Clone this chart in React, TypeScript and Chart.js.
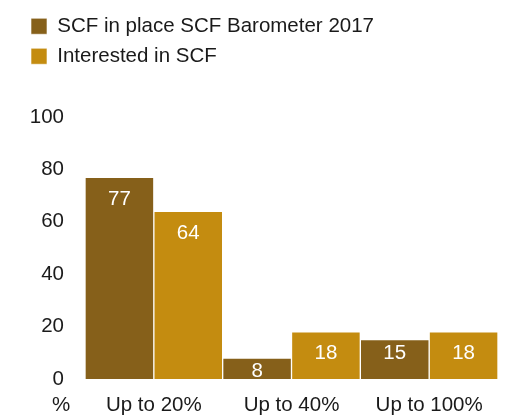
import React, { useEffect, useRef } from "react";
import { Chart, registerables } from "chart.js";

Chart.register(...registerables);

const categories = ["Up to 20%", "Up to 40%", "Up to 100%"];
const seriesNames = ["SCF in place SCF Barometer 2017", "Interested in SCF"];
const scfInPlace = [77, 8, 15];
const interested = [64, 18, 18];
const yTickValues = [0, 20, 40, 60, 80, 100];
const unitLabel = "%";

const DARK = "#86601a";
const GOLD = "#c48c10";
const TEXT = "#1a1a1a";
const FONT = "'Liberation Sans', Arial, Helvetica, sans-serif";
const FS = 20.5;

export default function App() {
  const ref = useRef<HTMLCanvasElement | null>(null);

  useEffect(() => {
    if (!ref.current) return;

    const legendHeightPlugin = {
      id: "legendHeight",
      afterInit(chart: any) {
        const lg = chart.legend;
        if (lg && !lg.__patched) {
          const orig = lg.fit.bind(lg);
          lg.fit = () => {
            orig();
            lg.height = 110.5;
          };
          lg.__patched = true;
        }
      },
    };

    const labelPlugin = {
      id: "valueLabels",
      afterDatasetsDraw(chart: any) {
        const ctx = chart.ctx;
        ctx.save();
        ctx.font = `${FS}px ${FONT}`;
        ctx.fillStyle = "#ffffff";
        ctx.textAlign = "center";
        ctx.textBaseline = "middle";
        chart.data.datasets.forEach((ds: any, di: number) => {
          const meta = chart.getDatasetMeta(di);
          meta.data.forEach((bar: any, i: number) => {
            const top = bar.y;
            const bottom = bar.base;
            const y = Math.min(top + 22, Math.max(top + 13, bottom - 26));
            ctx.fillText(String(ds.data[i]), bar.x, y);
          });
        });
        ctx.restore();
      },
      afterDraw(chart: any) {
        const ctx = chart.ctx;
        const area = chart.chartArea;
        ctx.save();
        ctx.font = `${FS}px ${FONT}`;
        ctx.fillStyle = TEXT;
        ctx.textAlign = "center";
        ctx.textBaseline = "middle";
        ctx.fillText(unitLabel, 61, area.bottom + 14 + (FS * 1.2) / 2);
        ctx.restore();
      },
    };

    const chart = new Chart(ref.current, {
      type: "bar",
      data: {
        labels: categories,
        datasets: [
          {
            label: seriesNames[0],
            data: scfInPlace,
            backgroundColor: DARK,
            borderColor: "rgba(255,255,255,0.6)",
            borderWidth: 1,
            categoryPercentage: 1,
            barPercentage: 1,
          },
          {
            label: seriesNames[1],
            data: interested,
            backgroundColor: GOLD,
            borderColor: "rgba(255,255,255,0.6)",
            borderWidth: 1,
            categoryPercentage: 1,
            barPercentage: 1,
          },
        ],
      },
      options: {
        animation: false,
        responsive: true,
        maintainAspectRatio: false,
        layout: { padding: { left: 21.5, right: 15, top: 6.5, bottom: 0 } },
        plugins: {
          legend: {
            position: "top",
            align: "start",
            labels: {
              boxWidth: 16,
              boxHeight: 16,
              padding: 9.5,
              color: TEXT,
              font: { family: FONT, size: FS },
            },
          },
          tooltip: { enabled: false },
        },
        scales: {
          x: {
            grid: { display: false, drawTicks: false },
            border: { display: false },
            ticks: {
              color: TEXT,
              font: { family: FONT, size: FS },
              padding: 14,
              maxRotation: 0,
              autoSkip: false,
            },
            afterFit(scale: any) {
              scale.height = 37;
            },
          },
          y: {
            min: 0,
            max: 100,
            grid: { display: false, drawTicks: false },
            border: { display: false },
            afterBuildTicks(scale: any) {
              scale.ticks = yTickValues.map((v) => ({ value: v }));
            },
            ticks: {
              color: TEXT,
              font: { family: FONT, size: FS },
              padding: 21,
            },
            afterFit(scale: any) {
              scale.width = 63.5;
            },
          },
        },
      },
      plugins: [legendHeightPlugin, labelPlugin],
    } as any);

    return () => chart.destroy();
  }, []);

  return (
    <div style={{ position: "absolute", left: 0, top: 0, width: 513, height: 416 }}>
      <canvas ref={ref} />
    </div>
  );
}
